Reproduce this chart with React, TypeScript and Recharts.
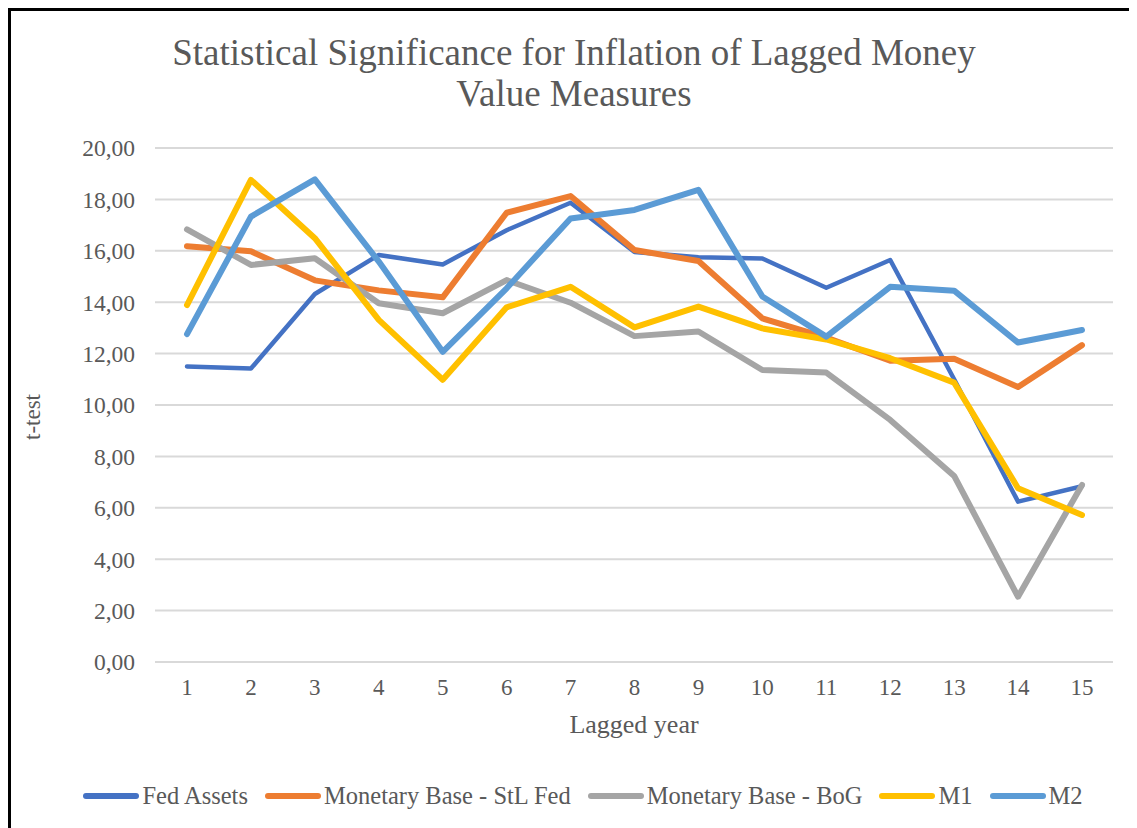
import { CartesianGrid, Line, LineChart, XAxis, YAxis } from "recharts"

const LAGS = ["1", "2", "3", "4", "5", "6", "7", "8", "9", "10", "11", "12", "13", "14", "15"]

const fedAssets = [11.5, 11.42, 14.32, 15.84, 15.47, 16.8, 17.87, 15.95, 15.75, 15.7, 14.56, 15.64, 11.0, 6.24, 6.84]
const monetaryBaseStL = [16.18, 15.98, 14.85, 14.46, 14.19, 17.48, 18.13, 16.03, 15.6, 13.37, 12.62, 11.72, 11.8, 10.7, 12.33]
const monetaryBaseBoG = [16.83, 15.45, 15.71, 13.96, 13.57, 14.86, 13.98, 12.68, 12.86, 11.36, 11.26, 9.42, 7.24, 2.54, 6.89]
const m1 = [13.89, 18.76, 16.49, 13.31, 10.98, 13.8, 14.6, 13.02, 13.83, 12.98, 12.55, 11.82, 10.87, 6.76, 5.72]
const m2 = [12.76, 17.33, 18.78, 15.58, 12.07, 14.54, 17.26, 17.59, 18.37, 14.22, 12.66, 14.6, 14.45, 12.43, 12.92]

const Y_TICKS = [0, 2, 4, 6, 8, 10, 12, 14, 16, 18, 20]

const SERIES = [
    { key: "fedAssets", name: "Fed Assets", color: "#4472C4", values: fedAssets },
    { key: "stl", name: "Monetary Base - StL Fed", color: "#ED7D31", values: monetaryBaseStL },
    { key: "bog", name: "Monetary Base - BoG", color: "#A5A5A5", values: monetaryBaseBoG },
    { key: "m1", name: "M1", color: "#FFC000", values: m1 },
    { key: "m2", name: "M2", color: "#5B9BD5", values: m2 },
]

const data = LAGS.map((lag, i) => {
    const row: Record<string, string | number> = { lag }
    SERIES.forEach(s => { row[s.key] = s.values[i] })
    return row
})

// Times-like look; fall back through the serif faces that may be installed
const FONT = "Liberation Serif, DejaVu Serif, Noto Serif, serif"
const TEXT = "#595959"

export default function App() {
    return (
        <div style={{ position: "relative", width: 1140, height: 830, border: "3px solid #000", boxSizing: "border-box", background: "#fff", fontFamily: FONT, color: TEXT }}>
            <div style={{ position: "absolute", left: 0, top: 21, width: 1126, textAlign: "center", fontSize: 37, lineHeight: "41px" }}>
                Statistical Significance for Inflation of Lagged Money<br />Value Measures
            </div>
            <div style={{ position: "absolute", left: 0, top: 0 }}>
                <LineChart width={1126} height={700} data={data} margin={{ top: 137, right: 24, left: 84, bottom: 9 }}>
                    <CartesianGrid vertical={false} stroke="#d9d9d9" strokeWidth={2} />
                    <XAxis
                        dataKey="lag"
                        height={40}
                        padding={{ left: 32, right: 31 }}
                        axisLine={false}
                        tickLine={false}
                        tickSize={0}
                        tickMargin={17}
                        tick={{ fill: TEXT, fontSize: 23, fontFamily: FONT }}
                    />
                    <YAxis
                        width={60}
                        domain={[0, 20]}
                        ticks={Y_TICKS}
                        interval={0}
                        axisLine={false}
                        tickLine={false}
                        tickSize={0}
                        tickMargin={20}
                        tickFormatter={(v: number) => v.toFixed(2).replace(".", ",")}
                        tick={{ fill: TEXT, fontSize: 23.5, fontFamily: FONT }}
                    />
                    {SERIES.map(s => (
                        <Line
                            key={s.key}
                            type="linear"
                            dataKey={s.key}
                            name={s.name}
                            stroke={s.color}
                            strokeWidth={s.key === "fedAssets" ? 4.5 : 6}
                            strokeLinecap="round"
                            strokeLinejoin="round"
                            dot={false}
                            isAnimationActive={false}
                        />
                    ))}
                </LineChart>
            </div>
            <div style={{ position: "absolute", left: -1, top: 393, width: 46, textAlign: "center", fontSize: 23, transform: "rotate(-90deg)" }}>
                t-test
            </div>
            <div style={{ position: "absolute", left: 144, top: 699, width: 958, textAlign: "center", fontSize: 26 }}>
                Lagged year
            </div>
            <div style={{ position: "absolute", left: 9, top: 771, width: 1126, display: "flex", justifyContent: "center", alignItems: "center", fontSize: 24.5, gap: 17 }}>
                {SERIES.map(s => (
                    <div key={s.key} style={{ display: "flex", alignItems: "center" }}>
                        <span style={{ display: "inline-block", width: 56, height: 6, borderRadius: 3, background: s.color, marginRight: 3 }} />
                        <span>{s.name}</span>
                    </div>
                ))}
            </div>
        </div>
    )
}
